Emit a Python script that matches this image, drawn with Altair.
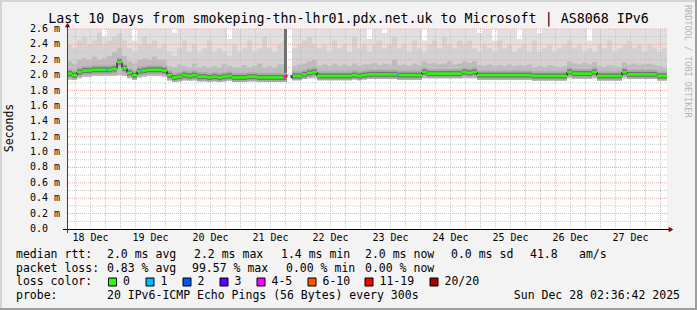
import altair as alt
import pandas as pd

FONT = "DejaVu Sans Mono"
W, H = 600, 200
NB = 120          # 2-hour bins over 10 days
BIN_H = 2.0

# ---------------- data (values in milliseconds) ----------------
median = [2.02, 2.00, 2.04, 2.06, 2.06, 2.07, 2.07, 2.07, 2.07, 2.08,
          2.17, 2.09, 2.03, 2.00, 2.05, 2.06, 2.07, 2.07, 2.07, 2.06,
          2.00, 1.97, 1.98, 2.00, 1.99, 2.00, 1.98, 1.98, 1.97, 1.98,
          1.97, 1.98, 1.99, 1.97, 1.97, 1.97, 1.98, 1.98, 1.97, 1.97,
          1.97, 1.97, 1.97, 1.97, None, 1.99, 1.99, 2.01, 2.03, 2.04,
          1.99, 1.99, 1.99, 1.99, 1.99, 1.99, 1.99, 2.00, 1.99, 2.00,
          2.01, 2.01, 2.01, 2.01, 2.01, 2.01, 2.00, 2.00, 2.00, 2.00,
          2.00, 2.04, 2.02, 2.02, 2.02, 2.02, 2.02, 2.02, 2.02, 2.04,
          2.03, 2.04, 2.00, 2.00, 2.00, 2.00, 2.00, 2.00, 2.00, 2.00,
          2.00, 2.00, 2.00, 1.99, 1.99, 1.99, 1.99, 1.99, 1.99, 1.99,
          2.04, 2.02, 2.02, 2.02, 2.02, 2.04, 1.99, 1.99, 1.99, 1.99,
          1.99, 2.04, 2.01, 2.01, 2.01, 2.01, 2.01, 2.01, 1.99, 1.99]

smoke_lo = [1.94, 1.94, 1.96, 1.98, 1.98, 1.99, 1.99, 1.99, 1.99, 1.99,
            2.00, 1.99, 1.96, 1.94, 1.97, 1.98, 1.99, 1.99, 1.99, 1.98,
            1.93, 1.92, 1.92, 1.93, 1.93, 1.93, 1.92, 1.92, 1.92, 1.92,
            1.92, 1.92, 1.93, 1.92, 1.92, 1.92, 1.92, 1.92, 1.92, 1.92,
            1.92, 1.92, 1.92, 1.93, None, 1.94, 1.94, 1.95, 1.96, 1.96,
            1.94, 1.94, 1.94, 1.94, 1.94, 1.94, 1.94, 1.95, 1.94, 1.95,
            1.95, 1.95, 1.95, 1.95, 1.95, 1.95, 1.94, 1.94, 1.94, 1.94,
            1.94, 1.96, 1.96, 1.96, 1.96, 1.96, 1.96, 1.96, 1.96, 1.96,
            1.96, 1.96, 1.94, 1.94, 1.94, 1.94, 1.94, 1.94, 1.94, 1.94,
            1.94, 1.94, 1.94, 1.93, 1.93, 1.93, 1.93, 1.93, 1.93, 1.93,
            1.96, 1.95, 1.95, 1.95, 1.95, 1.96, 1.93, 1.93, 1.93, 1.93,
            1.93, 1.96, 1.95, 1.95, 1.95, 1.95, 1.95, 1.95, 1.93, 1.93]

smoke_mid = [2.18, 2.15, 2.20, 2.22, 2.20, 2.24, 2.20, 2.22, 2.25, 2.30,
             2.35, 2.25, 2.18, 2.15, 2.20, 2.22, 2.20, 2.24, 2.20, 2.20,
             2.12, 2.10, 2.14, 2.12, 2.10, 2.15, 2.10, 2.12, 2.10, 2.12,
             2.10, 2.14, 2.12, 2.10, 2.10, 2.13, 2.10, 2.12, 2.15, 2.10,
             2.12, 2.10, 2.14, 2.14, None, 2.12, 2.14, 2.15, 2.18, 2.20,
             2.12, 2.14, 2.12, 2.15, 2.12, 2.14, 2.12, 2.15, 2.12, 2.14,
             2.14, 2.16, 2.13, 2.15, 2.14, 2.20, 2.13, 2.14, 2.12, 2.15,
             2.13, 2.18, 2.15, 2.16, 2.14, 2.15, 2.18, 2.14, 2.15, 2.18,
             2.16, 2.18, 2.13, 2.12, 2.14, 2.12, 2.13, 2.12, 2.14, 2.12,
             2.13, 2.12, 2.14, 2.11, 2.12, 2.11, 2.13, 2.12, 2.11, 2.12,
             2.18, 2.15, 2.14, 2.16, 2.14, 2.17, 2.12, 2.11, 2.13, 2.12,
             2.11, 2.17, 2.14, 2.15, 2.13, 2.14, 2.15, 2.13, 2.12, 2.11]

smoke_hi = [2.40, 2.35, 2.45, 2.50, 2.40, 2.45, 2.55, 2.40, 2.45, 2.50,
            2.55, 2.45, 2.35, 2.30, 2.40, 2.50, 2.40, 2.45, 2.35, 2.40,
            2.30, 2.25, 2.35, 2.45, 2.30, 2.40, 2.30, 2.35, 2.45, 2.30,
            2.35, 2.30, 2.25, 2.40, 2.30, 2.35, 2.45, 2.30, 2.35, 2.50,
            2.35, 2.30, 2.40, 2.45, None, 2.35, 2.40, 2.45, 2.50, 2.40,
            2.35, 2.40, 2.30, 2.45, 2.35, 2.40, 2.30, 2.50, 2.35, 2.40,
            2.30, 2.40, 2.45, 2.35, 2.40, 2.50, 2.35, 2.40, 2.30, 2.45,
            2.35, 2.30, 2.40, 2.45, 2.35, 2.50, 2.40, 2.35, 2.45, 2.40,
            2.45, 2.35, 2.30, 2.40, 2.35, 2.30, 2.45, 2.35, 2.40, 2.30,
            2.35, 2.40, 2.30, 2.45, 2.30, 2.35, 2.40, 2.30, 2.35, 2.40,
            2.45, 2.35, 2.40, 2.30, 2.35, 2.30, 2.40, 2.35, 2.45, 2.30,
            2.35, 2.40, 2.45, 2.35, 2.40, 2.30, 2.40, 2.35, 2.30, 2.35]

smoke_top = [2.60, 2.60, 2.60, 2.60, 2.60, 2.60, 2.60, 2.50, 2.60, 2.60,
             2.60, 2.60, 2.60, 2.45, 2.60, 2.60, 2.60, 2.60, 2.60, 2.60,
             2.60, 2.55, 2.60, 2.60, 2.60, 2.60, 2.60, 2.60, 2.60, 2.60,
             2.60, 2.60, 2.47, 2.60, 2.60, 2.60, 2.60, 2.60, 2.60, 2.60,
             2.60, 2.60, 2.60, 2.60, None, 2.60, 2.60, 2.60, 2.60, 2.60,
             2.60, 2.60, 2.60, 2.60, 2.60, 2.60, 2.60, 2.60, 2.60, 2.60,
             2.47, 2.60, 2.60, 2.55, 2.60, 2.60, 2.60, 2.60, 2.60, 2.60,
             2.60, 2.45, 2.60, 2.60, 2.60, 2.60, 2.60, 2.60, 2.60, 2.60,
             2.60, 2.60, 2.55, 2.60, 2.60, 2.45, 2.60, 2.60, 2.60, 2.60,
             2.47, 2.60, 2.60, 2.60, 2.55, 2.60, 2.60, 2.60, 2.60, 2.60,
             2.60, 2.60, 2.60, 2.60, 2.45, 2.60, 2.60, 2.60, 2.60, 2.60,
             2.60, 2.60, 2.60, 2.60, 2.60, 2.60, 2.60, 2.60, 2.60, 2.60]

# high-loss spike (dark smoke column)
spike_hours = [86.8]
spike_lo = [1.99]
spike_hi = [2.60]

# loss events on the median line
loss_hours = [15.6, 29.2, 86.6, 87.4, 89.4, 132.0]
loss_rtt = [2.07, 2.06, 1.97, 1.99, 1.98, 2.01]
loss_class = ["1", "1", "4-5", "11-19", "3", "1"]

loss_labels = ["0", "1", "2", "3", "4-5", "6-10", "11-19", "20/20"]
loss_colors = ["#26ff00", "#00b8ff", "#0059ff", "#5e00ff", "#ff00ff",
               "#ff5500", "#ff0000", "#a10000"]

day_labels = ["18 Dec", "19 Dec", "20 Dec", "21 Dec", "22 Dec",
              "23 Dec", "24 Dec", "25 Dec", "26 Dec", "27 Dec"]
y_ticks = [0.0, 0.2, 0.4, 0.6, 0.8, 1.0, 1.2, 1.4, 1.6, 1.8, 2.0, 2.2, 2.4, 2.6]
y_labels = ["0.0", "0.2 m", "0.4 m", "0.6 m", "0.8 m", "1.0 m", "1.2 m",
            "1.4 m", "1.6 m", "1.8 m", "2.0 m", "2.2 m", "2.4 m", "2.6 m"]

title_text = "Last 10 Days from smokeping-thn-lhr01.pdx.net.uk to Microsoft | AS8068 IPv6"
stats_rtt = ["median rtt:", "2.0 ms avg", "2.2 ms max", "1.4 ms min",
             "2.0 ms now", "0.0 ms sd", "41.8", "am/s"]
stats_loss = ["packet loss:", "0.83 % avg", "99.57 % max", "0.00 % min", "0.00 % now"]
probe_text = ["probe:", "20 IPv6-ICMP Echo Pings (56 Bytes) every 300s"]
stamp_text = "Sun Dec 28 02:36:42 2025"

# ---------------- layout constants (pixels) ----------------
START_OFFSET = 21.3883          # hours from graph start to 19 Dec 00:00
ROW_Y = [226, 239.5, 253, 267]  # legend rows, relative to plot top
X0 = -67                        # image left edge relative to plot
Y0 = -29                        # image top edge relative to plot
rtt_x = [16, 107, 194, 281, 365, 451, 530, 579]
loss_x = [16, 107, 192, 286, 365]
swatch_x = [112.5, 150, 187, 224, 261, 312, 369, 434]

# ---------------- frames ----------------
smoke = pd.DataFrame({
    "t0": [i * BIN_H for i in range(NB)],
    "t1": [(i + 1) * BIN_H for i in range(NB)],
    "med": median, "lo": smoke_lo, "mid": smoke_mid,
    "hi": smoke_hi, "top": smoke_top,
})
smoke["prev"] = smoke["med"].shift(1)
smoke_valid = smoke.dropna(subset=["lo"])
med_valid = smoke.dropna(subset=["med"])
conn = smoke.dropna(subset=["med", "prev"])

spike = pd.DataFrame({"t0": spike_hours, "t1": [h + 1.2 for h in spike_hours],
                      "lo": spike_lo, "hi": spike_hi})
loss = pd.DataFrame({"t0": loss_hours, "t1": [h + 0.8 for h in loss_hours],
                     "rtt": loss_rtt, "cls": loss_class})

minor_v = [START_OFFSET + 6 * j for j in range(-3, 40)
           if 0 < START_OFFSET + 6 * j < 240]
major_v = [START_OFFSET + 24 * k for k in range(10)]
minor_h = [round(0.1 + 0.2 * k, 2) for k in range(13)]
major_h = y_ticks[1:]
noon = [START_OFFSET - 12 + 24 * k for k in range(10)]

xs = alt.Scale(domain=[0, 240], nice=False, zero=False)
ys = alt.Scale(domain=[0, 2.6], nice=False, zero=True)
one = pd.DataFrame({"a": [0]})


def X(f):
    return alt.X(f, scale=xs, axis=None)


def Y(f):
    return alt.Y(f, scale=ys, axis=None)


def band(lo, hi, color):
    return alt.Chart(smoke_valid).mark_rect(color=color).encode(
        x=X("t0:Q"), x2="t1:Q", y=Y(lo + ":Q"), y2=hi + ":Q")


layers = [band("lo", "top", "#e0e0e0"), band("lo", "hi", "#d2d2d2"),
          band("lo", "mid", "#bcbcbc")]


def vrules(vals, color):
    return alt.Chart(pd.DataFrame({"v": vals})).mark_rule(
        color=color, strokeDash=[1, 1], strokeWidth=1).encode(x=X("v:Q"))


def hrules(vals, color):
    return alt.Chart(pd.DataFrame({"v": vals})).mark_rule(
        color=color, strokeDash=[1, 1], strokeWidth=1).encode(y=Y("v:Q"))


layers += [vrules(minor_v, "#c8c8c8"), hrules(minor_h, "#c8c8c8"),
           vrules(major_v, "#eea8a8"), hrules(major_h, "#eea8a8")]

layers.append(alt.Chart(spike).mark_rect(color="#707070").encode(
    x=X("t0:Q"), x2="t1:Q", y=Y("lo:Q"), y2="hi:Q"))

# dark smoke hugging the median
for w, c in [(9, "#a8a8a8"), (5, "#747474")]:
    layers.append(alt.Chart(med_valid).mark_rule(color=c, strokeWidth=w).encode(
        x=X("t0:Q"), x2="t1:Q", y=Y("med:Q")))

layers.append(alt.Chart(conn).mark_rule(color="black", strokeWidth=1).encode(
    x=X("t0:Q"), y=Y("prev:Q"), y2="med:Q"))

layers.append(alt.Chart(med_valid).mark_rule(color=loss_colors[0], strokeWidth=2.5).encode(
    x=X("t0:Q"), x2="t1:Q", y=Y("med:Q")))

layers.append(alt.Chart(loss).mark_rule(strokeWidth=3).encode(
    x=X("t0:Q"), x2="t1:Q", y=Y("rtt:Q"),
    color=alt.Color("cls:N", scale=alt.Scale(domain=loss_labels, range=loss_colors),
                    legend=None)))

# axes lines and arrows
layers.append(alt.Chart(one).mark_rule(color="#000000", strokeWidth=1).encode(
    x=alt.value(-4), x2=alt.value(602), y=alt.value(200.5)))
layers.append(alt.Chart(one).mark_rule(color="#404040", strokeWidth=1).encode(
    x=alt.value(0.5), y=alt.value(-4), y2=alt.value(204)))
layers.append(alt.Chart(one).mark_point(shape="triangle-up", filled=True, size=28,
                                        color="#8b0000", opacity=1).encode(
    x=alt.value(0.5), y=alt.value(-4)))
layers.append(alt.Chart(one).mark_point(shape="triangle-right", filled=True, size=28,
                                        color="#8b0000", opacity=1).encode(
    x=alt.value(604), y=alt.value(200.5)))

# image frame (rrdtool shade)
for xv, x2v, yv, y2v, col in [(X0, 697 + X0, Y0 + 1, None, "#d4d4d4"),
                              (X0 + 1, None, Y0, 310 + Y0, "#d4d4d4"),
                              (X0, 697 + X0, 310 + Y0 - 1, None, "#9e9e9e"),
                              (697 + X0 - 1, None, Y0, 310 + Y0, "#9e9e9e")]:
    enc = dict(x=alt.value(xv), y=alt.value(yv))
    if x2v is not None:
        enc["x2"] = alt.value(x2v)
    if y2v is not None:
        enc["y2"] = alt.value(y2v)
    layers.append(alt.Chart(one).mark_rule(color=col, strokeWidth=2).encode(**enc))

# axis labels
layers.append(alt.Chart(pd.DataFrame({"h": noon, "lab": day_labels})).mark_text(
    font=FONT, fontSize=10, color="black", align="center", baseline="middle").encode(
    x=X("h:Q"), y=alt.value(208.5), text="lab:N"))
layers.append(alt.Chart(pd.DataFrame({"v": y_ticks, "lab": y_labels})).mark_text(
    font=FONT, fontSize=10, color="black", align="left", baseline="middle").encode(
    y=Y("v:Q"), x=alt.value(-37), text="lab:N"))


def txt(s, x, y, size=11.5, align="left", color="black", angle=0, baseline="middle"):
    kw = dict(text=s, font=FONT, fontSize=size, align=align, baseline=baseline,
              color=color)
    if angle:
        kw["angle"] = angle
    return alt.Chart(one).mark_text(**kw).encode(x=alt.value(x), y=alt.value(y))


layers.append(txt(title_text, 348.5 + X0, -6.5, size=13.3, align="center",
                  baseline="alphabetic"))
layers.append(txt("Seconds", 10 + X0, 99, size=11.5, align="center", angle=270))
layers.append(txt("RRDTOOL / TOBI OETIKER", 688 + X0, -24, size=8.5,
                  color="#b4b4b4", angle=90, baseline="middle"))

for s, x in zip(stats_rtt, rtt_x):
    layers.append(txt(s, x + X0, ROW_Y[0]))
for s, x in zip(stats_loss, loss_x):
    layers.append(txt(s, x + X0, ROW_Y[1]))
layers.append(txt("loss color:", 16 + X0, ROW_Y[2]))
for lab, col, x in zip(loss_labels, loss_colors, swatch_x):
    layers.append(alt.Chart(one).mark_square(size=64, color=col, filled=True,
                                             stroke="black", strokeWidth=1,
                                             opacity=1).encode(
        x=alt.value(x + X0), y=alt.value(ROW_Y[2])))
    layers.append(txt(lab, x + X0 + 10.5, ROW_Y[2]))
layers.append(txt(probe_text[0], 16 + X0, ROW_Y[3]))
layers.append(txt(probe_text[1], 107 + X0, ROW_Y[3]))
layers.append(txt(stamp_text, 680 + X0, ROW_Y[3], align="right"))

chart = alt.layer(*layers).properties(
    width=W, height=H,
    padding={"left": 67, "top": 29, "right": 30, "bottom": 81},
    autosize=alt.AutoSizeParams(type="none"),
    background="#f3f3f3",
).configure_view(fill="white", stroke=None)

chart.save("out.html", embed_options={"renderer": "svg", "actions": False})
